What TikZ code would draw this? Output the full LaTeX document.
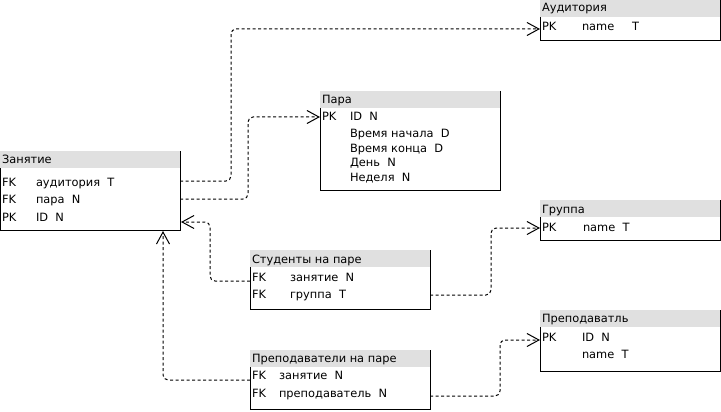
\documentclass[tikz,border=0pt]{standalone}
\usepackage{fontspec}
\setmainfont{DejaVu Sans}
\usetikzlibrary{arrows.meta}
\definecolor{hdrgray}{HTML}{E0E0E0}
\tikzset{
  hdr/.style={fill=hdrgray, draw=none, inner sep=0pt, outer sep=0pt, minimum width=180pt, minimum height=17pt, anchor=north west},
  bodyb/.style={draw=none, inner sep=0pt, outer sep=0pt, minimum width=180pt, anchor=north west},
  edge/.style={draw=black, line width=1pt},
  txt/.style={inner sep=0pt, outer sep=0pt, anchor=base west, font=\fontsize{11.4}{13}\selectfont},
  fk/.style={draw=black, line width=1pt, dash pattern=on 3pt off 2.5pt, rounded corners=5pt, -{Straight Barb[length=12pt,width=13pt]}}
}
\begin{document}
\begin{tikzpicture}[x=1pt,y=-1pt]
\useasboundingbox (0,0) rectangle (721,412);

% ---------- Аудитория ----------
\node[hdr] (audH) at (540,0) {};
\node[bodyb, minimum height=24pt] (audB) at (540,17) {};
\draw[edge] (audH.north east) -- (audB.south east) -- (audB.south west) -- (audB.north west);
\node[txt] (audT) at (542,12) {Аудитория};
\node[txt] (audR1k) at (542,31) {PK};
\node[txt] (audR1) at (582,31) {name};
\node[txt] (audR1t) at (632,31) {T};

% ---------- Пара ----------
\node[hdr] (parH) at (320,91) {};
\node[bodyb, minimum height=82pt] (parB) at (320,108) {};
\draw[edge] (parH.north east) -- (parB.south east) -- (parB.south west) -- (parB.north west);
\node[txt] (parT) at (322,103) {Пара};
\node[txt] (parR1k) at (322,121) {PK};
\node[txt] (parR1) at (350,121) {ID\ \ N};
\node[txt] (parR2) at (350,137) {Время начала\ \ D};
\node[txt] (parR3) at (350,152) {Время конца\ \ D};
\node[txt] (parR4) at (350,166) {День\ \ N};
\node[txt] (parR5) at (350,181) {Неделя\ \ N};

% ---------- Занятие ----------
\node[hdr] (zanH) at (0,151) {};
\node[bodyb, minimum height=62pt] (zanB) at (0,168) {};
\draw[edge] (zanH.north east) -- (zanB.south east) -- (zanB.south west) -- (zanB.north west);
\node[txt] (zanT) at (2,163) {Занятие};
\node[txt] (zanR1k) at (2,186) {FK};
\node[txt] (zanR1) at (36,186) {аудитория\ \ T};
\node[txt] (zanR2k) at (2,203.5) {FK};
\node[txt] (zanR2) at (36,203.5) {пара\ \ N};
\node[txt] (zanR3k) at (2,221) {PK};
\node[txt] (zanR3) at (36,221) {ID\ \ N};

% ---------- Группа ----------
\node[hdr] (grH) at (540,200) {};
\node[bodyb, minimum height=23pt] (grB) at (540,217) {};
\draw[edge] (grH.north east) -- (grB.south east) -- (grB.south west) -- (grB.north west);
\node[txt] (grT) at (542,213) {Группа};
\node[txt] (grR1k) at (542,231) {PK};
\node[txt] (grR1) at (583,231) {name\ \ T};

% ---------- Студенты на паре ----------
\node[hdr] (stH) at (250,250) {};
\node[bodyb, minimum height=42pt] (stB) at (250,267) {};
\draw[edge] (stH.north east) -- (stB.south east) -- (stB.south west) -- (stB.north west);
\node[txt] (stT) at (252,263) {Студенты на паре};
\node[txt] (stR1k) at (252,281) {FK};
\node[txt] (stR1) at (290,281) {занятие\ \ N};
\node[txt] (stR2k) at (252,298) {FK};
\node[txt] (stR2) at (290,298) {группа\ \ T};

% ---------- Преподаватль ----------
\node[hdr] (prH) at (540,310) {};
\node[bodyb, minimum height=44pt] (prB) at (540,327) {};
\draw[edge] (prH.north east) -- (prB.south east) -- (prB.south west) -- (prB.north west);
\node[txt] (prT) at (542,322) {Преподаватль};
\node[txt] (prR1k) at (542,341) {PK};
\node[txt] (prR1) at (582,341) {ID\ \ N};
\node[txt] (prR2) at (582,358) {name\ \ T};

% ---------- Преподаватели на паре ----------
\node[hdr] (ppH) at (250,350) {};
\node[bodyb, minimum height=42pt] (ppB) at (250,367) {};
\draw[edge] (ppH.north east) -- (ppB.south east) -- (ppB.south west) -- (ppB.north west);
\node[txt] (ppT) at (252,362) {Преподаватели на паре};
\node[txt] (ppR1k) at (252,379) {FK};
\node[txt] (ppR1) at (279,379) {занятие\ \ N};
\node[txt] (ppR2k) at (252,397) {FK};
\node[txt] (ppR2) at (279,397) {преподаватель\ \ N};

% ---------- connection points ----------
\coordinate (zanAud) at (180,181);
\coordinate (audPK) at (540,29);
\coordinate (zanPara) at (180,199);
\coordinate (parPK) at (320,117);
\coordinate (stZan) at (250,281);
\coordinate (zanIn) at (181,222);
\coordinate (ppZan) at (250,380);
\coordinate (zanBot) at (163,231);
\coordinate (stGr) at (430,295);
\coordinate (grPK) at (540,228);
\coordinate (ppPr) at (430,396);
\coordinate (prPK) at (540,340);

% ---------- connectors ----------
\draw[fk] (zanAud) -- ++(51,0) |- (audPK);
\draw[fk] (zanPara) -- ++(68,0) |- (parPK);
\draw[fk] (stZan) -- ++(-40,0) |- (zanIn);
\draw[fk] (ppZan) -| (zanBot);
\draw[fk] (stGr) -- ++(61,0) |- (grPK);
\draw[fk] (ppPr) -- ++(70,0) |- (prPK);
\end{tikzpicture}
\end{document}
